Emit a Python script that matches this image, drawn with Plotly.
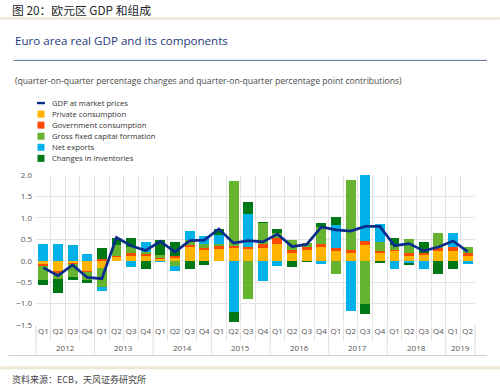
import plotly.graph_objects as go

# ---------------- data ----------------
quarters = ["Q1", "Q2", "Q3", "Q4"] * 7 + ["Q1", "Q2"]
years = ["2012", "2013", "2014", "2015", "2016", "2017", "2018", "2019"]
gdp = [-0.16, -0.35, -0.10, -0.39, -0.42, 0.54, 0.35, 0.24,
       0.45, 0.20, 0.47, 0.48, 0.74, 0.41, 0.47, 0.44,
       0.62, 0.33, 0.38, 0.79, 0.72, 0.69, 0.80, 0.80,
       0.35, 0.40, 0.23, 0.32, 0.46, 0.21]
private_cons = [-0.08, -0.24, -0.05, -0.24, -0.18, 0.08, 0.11, 0.12,
                0.05, 0.07, 0.32, 0.25, 0.28, 0.29, 0.28, 0.29,
                0.40, 0.17, 0.25, 0.33, 0.23, 0.19, 0.37, 0.19,
                0.22, 0.11, 0.14, 0.23, 0.23, 0.11]
gov_cons = [-0.04, -0.04, -0.02, -0.03, 0.04, 0.02, 0.07, 0.03,
            0.02, 0.03, 0.05, 0.04, 0.07, 0.06, 0.05, 0.11,
            0.14, 0.08, 0.07, 0.07, 0.06, 0.06, 0.09, 0.04,
            0.04, 0.06, 0.05, 0.06, 0.08, 0.08]
gfcf = [-0.33, -0.14, -0.32, -0.18, -0.43, 0.26, 0.15, 0.06,
        0.06, -0.12, 0.12, 0.11, 0.05, 1.50, -0.90, 0.49,
        0.10, 0.23, 0.10, 0.39, -0.32, 1.63, -1.00, 0.21,
        0.10, 0.33, 0.00, 0.35, 0.00, 0.12]
net_exports = [0.40, 0.40, 0.36, 0.15, -0.10, 0.00, -0.15, 0.23,
               -0.03, -0.12, 0.20, 0.18, 0.20, -1.19, 0.77, -0.47,
               -0.12, 0.00, 0.00, -0.08, 0.54, -1.18, 1.60, 0.41,
               -0.19, -0.06, -0.20, 0.00, 0.34, -0.08]
inventories = [-0.11, -0.33, -0.07, -0.08, 0.26, 0.18, 0.19, -0.20,
               0.35, 0.33, -0.20, -0.10, 0.15, -0.25, 0.28, 0.02,
               0.10, -0.15, -0.04, 0.08, 0.20, 0.00, -0.25, -0.05,
               0.18, -0.03, 0.24, -0.32, -0.19, 0.00]
y_ticks = [2.0, 1.5, 1.0, 0.5, 0.0, -0.5, -1.0, -1.5]

series_names = ["Private consumption", "Government consumption",
                "Gross fixed capital formation", "Net exports",
                "Changes in inventories"]
series_vals = [private_cons, gov_cons, gfcf, net_exports, inventories]
series_cols = ["#FFB400", "#FF4B00", "#65B32E", "#00B1EA", "#007816"]
gdp_col = "#0A2D8C"

FONT = "Open Sans"
W, H = 500, 387
L, R, T, B = 35.5, 475.0, 174.5, 325.0


def xp(px):
    return (px - L) / (R - L)


def yp(py):
    return (B - py) / (B - T)


n = len(quarters)
xs = list(range(n))

fig = go.Figure()
for name, vals, col in zip(series_names, series_vals, series_cols):
    fig.add_trace(go.Bar(x=xs, y=vals, name=name, marker_color=col,
                         marker_line_width=0, width=0.68, showlegend=False))
fig.add_trace(go.Scatter(x=xs, y=gdp, mode="lines", name="GDP at market prices",
                         line=dict(color=gdp_col, width=2.7), showlegend=False))

shapes = []
annotations = []

# header
annotations.append(dict(x=xp(9), y=yp(8.5), xref="paper", yref="paper",
                        text="图 20：欧元区 GDP 和组成", showarrow=False,
                        xanchor="left", yanchor="middle",
                        font=dict(family="Noto Sans CJK SC", size=11.8, color="#262626")))
shapes.append(dict(type="line", xref="paper", yref="paper", x0=xp(0), x1=xp(W),
                   y0=yp(17.5), y1=yp(17.5), line=dict(color="#EAE0CF", width=2)))
annotations.append(dict(x=xp(12), y=yp(40), xref="paper", yref="paper",
                        text="Euro area real GDP and its components", showarrow=False,
                        xanchor="left", yanchor="middle",
                        font=dict(family=FONT, size=11.6, color="#1F3A7A")))
shapes.append(dict(type="line", xref="paper", yref="paper", x0=xp(13), x1=xp(487),
                   y0=yp(59.5), y1=yp(59.5), line=dict(color="#5B6E8C", width=1)))
annotations.append(dict(x=xp(12), y=yp(80), xref="paper", yref="paper",
                        text="(quarter-on-quarter percentage changes and quarter-on-quarter percentage point contributions)",
                        showarrow=False, xanchor="left", yanchor="middle",
                        font=dict(family=FONT, size=8.6, color="#4A4A4A")))

# manual legend
leg_names = ["GDP at market prices"] + series_names
leg_cols = [gdp_col] + series_cols
for i, (nm, col) in enumerate(zip(leg_names, leg_cols)):
    cy = 102.3 + i * 11.1
    if i == 0:
        shapes.append(dict(type="rect", xref="paper", yref="paper",
                           x0=xp(36.5), x1=xp(44.5), y0=yp(cy - 1.2), y1=yp(cy + 1.2),
                           fillcolor=col, line=dict(width=0)))
    else:
        shapes.append(dict(type="rect", xref="paper", yref="paper",
                           x0=xp(37), x1=xp(44), y0=yp(cy - 3.5), y1=yp(cy + 3.5),
                           fillcolor=col, line=dict(width=0)))
    annotations.append(dict(x=xp(50), y=yp(cy), xref="paper", yref="paper",
                            text=nm, showarrow=False, xanchor="left", yanchor="middle",
                            font=dict(family=FONT, size=7.7, color="#333333")))

# year labels and separators
grid_col = "#E3E3E3"
start = 0
for yr in years:
    cnt = 4 if yr != "2019" else 2
    mid = start + (cnt - 1) / 2
    annotations.append(dict(x=mid, y=yp(348), xref="x", yref="paper", text=yr,
                            showarrow=False, xanchor="center", yanchor="middle",
                            font=dict(family=FONT, size=8, color="#555555")))
    start += cnt
year_bounds = [-0.5, 3.5, 7.5, 11.5, 15.5, 19.5, 23.5, 27.5, 29.5]
for b in year_bounds:
    shapes.append(dict(type="line", xref="paper", yref="paper",
                       x0=(b + 0.5) / n, x1=(b + 0.5) / n, y0=yp(325), y1=yp(355),
                       line=dict(color=grid_col, width=1)))

# bottom lines and source
shapes.append(dict(type="line", xref="paper", yref="paper", x0=xp(8), x1=xp(487),
                   y0=yp(355.5), y1=yp(355.5), line=dict(color="#CFCFCF", width=1)))
shapes.append(dict(type="line", xref="paper", yref="paper", x0=xp(0), x1=xp(W),
                   y0=yp(368), y1=yp(368), line=dict(color="#EFE6D6", width=3)))
annotations.append(dict(x=xp(9), y=yp(380), xref="paper", yref="paper",
                        text="资料来源：ECB，天风证券研究所", showarrow=False,
                        xanchor="left", yanchor="middle",
                        font=dict(family="Noto Sans CJK SC", size=9, color="#444444")))

fig.update_layout(
    width=W, height=H,
    margin=dict(l=L, r=W - R, t=T, b=H - B, pad=0),
    paper_bgcolor="white", plot_bgcolor="white",
    barmode="relative", bargap=0,
    showlegend=False, hovermode=False,
    font=dict(family=FONT, size=8, color="#555555"),
    shapes=shapes, annotations=annotations,
    xaxis=dict(range=[-0.5, n - 0.5], tickmode="array", tickvals=xs, ticktext=quarters,
               showgrid=False, zeroline=False, showline=False, ticks="",
               tickfont=dict(family=FONT, size=8, color="#555555"),
               minor=dict(tickmode="array", tickvals=[i - 0.5 for i in range(n + 1)],
                          showgrid=True, gridcolor=grid_col, gridwidth=1,
                          ticks="outside", ticklen=15, tickcolor=grid_col, tickwidth=1),
               fixedrange=True),
    yaxis=dict(range=[-1.5, 2.0], tickmode="array", tickvals=y_ticks,
               tickformat=".1f", showgrid=True, gridcolor=grid_col, gridwidth=1,
               zeroline=False, showline=False, ticks="",
               tickfont=dict(family=FONT, size=8, color="#555555"),
               ticklabelstandoff=3, fixedrange=True),
)

fig.write_html("out.html", config={"displayModeBar": False, "staticPlot": True},
               post_script="document.body.style.margin='0';document.body.style.padding='0';")
